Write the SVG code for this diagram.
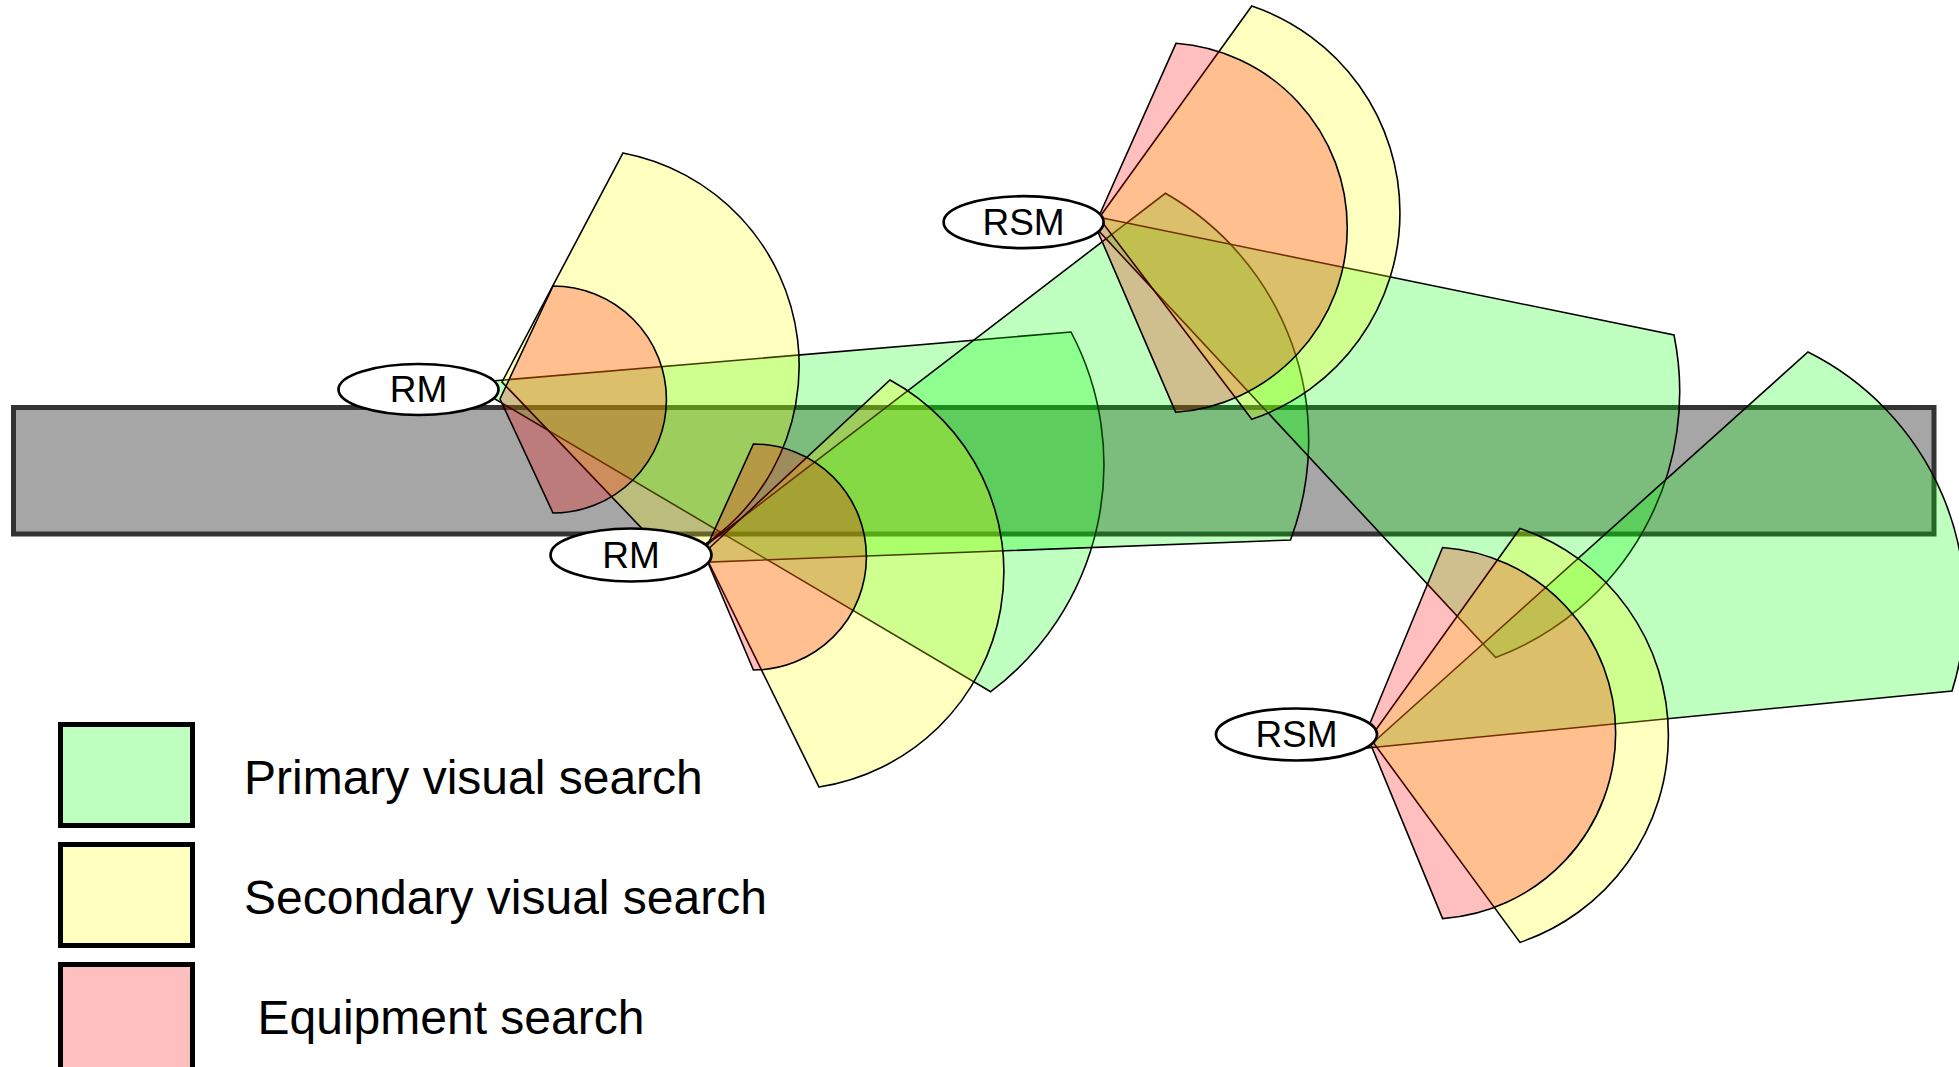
<svg xmlns="http://www.w3.org/2000/svg" width="1959" height="1067" viewBox="0 0 1959 1067">
<style>
.s{stroke:#000;stroke-width:1.6;stroke-linejoin:miter}
.g{fill:#00ff00;fill-opacity:0.25}
.y{fill:#ffff00;fill-opacity:0.25}
.p{fill:#ff0000;fill-opacity:0.25}
.node ellipse{fill:#fff;stroke:#000;stroke-width:2.7}
.lbl{font-family:"Liberation Sans",Arial,sans-serif;font-size:37px;text-anchor:middle;fill:#000}
.leg{font-family:"Liberation Sans",Arial,sans-serif;font-size:48px;fill:#000}
.box{stroke:#000;stroke-width:5}
</style>
<rect width="1959" height="1067" fill="#fff"/>
<g id="road">
<rect x="13.5" y="407.5" width="1920.5" height="126.5" fill="#a6a6a6" stroke="#333" stroke-width="5"/>
</g>
<g id="connectors">
<g id="fov-rm1">
<path class="s g" d="M468,383 L1071,332 A284,284 0 0 1 990.7,691.7 Z"/>
<path class="s y" d="M502,382 L623,153 A216.5,216.5 0 0 1 674,562 Z"/>
<path class="s p" d="M500,399 L553,286 A113.5,113.5 0 0 1 553,513 Z"/>
</g>
<g id="fov-rm2">
<path class="s g" d="M683,563 L1165.4,193.3 A284,284 0 0 1 1290.5,540 Z"/>
<path class="s y" d="M704,553 L890,380 A218,218 0 0 1 819,787 Z"/>
<path class="s p" d="M704,553 L753.4,444 A113,113 0 0 1 753.4,670 Z"/>
</g>
<g id="fov-rsm1">
<path class="s g" d="M1083,214 L1674,335 A284,284 0 0 1 1495.7,657.5 Z"/>
<path class="s y" d="M1099,218 L1251.8,6 A218.2,218.2 0 0 1 1251.8,419.3 Z"/>
<path class="s p" d="M1095,225 L1176,43.3 A185,185 0 0 1 1175.7,412.3 Z"/>
</g>
<g id="fov-rsm2">
<path class="s g" d="M1367,748 L1808,352 A284,284 0 0 1 1952,691 Z"/>
<path class="s y" d="M1370,738 L1520,528.5 A218.5,218.5 0 0 1 1520,942.4 Z"/>
<path class="s p" d="M1366,733 L1442.6,547.5 A186,186 0 0 1 1442.6,918.6 Z"/>
</g>
</g>
<g id="node-rm1" class="node">
<ellipse cx="418.5" cy="389.5" rx="80" ry="25.5"/>
<text class="lbl" x="418.5" y="402">RM</text>
</g>
<g id="node-rm2" class="node">
<ellipse cx="631" cy="555" rx="80.5" ry="26.5"/>
<text class="lbl" x="631" y="568">RM</text>
</g>
<g id="node-rsm1" class="node">
<ellipse cx="1023.6" cy="222.2" rx="80" ry="26"/>
<text class="lbl" x="1023.6" y="235">RSM</text>
</g>
<g id="node-rsm2" class="node">
<ellipse cx="1296.5" cy="734.5" rx="80.5" ry="26"/>
<text class="lbl" x="1296.5" y="747">RSM</text>
</g>
<g id="legend">
<rect class="box" x="60.5" y="724.5" width="132" height="101" fill="#bfffbf"/>
<rect class="box" x="60.5" y="844.5" width="132" height="101" fill="#ffffbf"/>
<rect class="box" x="60.5" y="964.5" width="132" height="120" fill="#ffbfbf"/>
<text class="leg" x="244" y="794">Primary visual search</text>
<text class="leg" x="244" y="914">Secondary visual search</text>
<text class="leg" x="257.5" y="1034">Equipment search</text>
</g>
</svg>
